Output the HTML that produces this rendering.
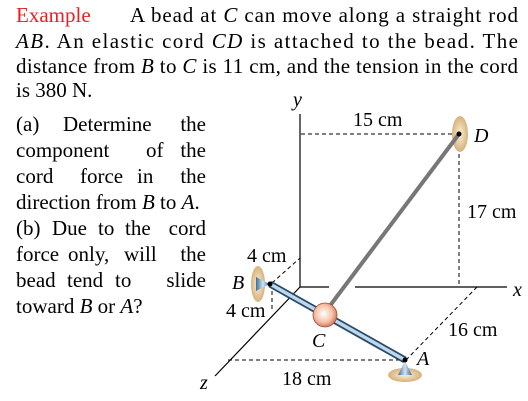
<!DOCTYPE html>
<html><head><meta charset="utf-8"><style>
body{margin:0;background:#fff}
svg{display:block;font-family:"Liberation Serif",serif}
</style></head><body>
<svg width="528" height="401" viewBox="0 0 528 401">
<defs>
<radialGradient id="bead" cx="0.45" cy="0.45" r="0.6"><stop offset="0" stop-color="#fff"/><stop offset="0.6" stop-color="#f6c0a6"/><stop offset="1" stop-color="#c86a4e"/></radialGradient>
<radialGradient id="disk"><stop offset="0" stop-color="#fbeed6"/><stop offset="1" stop-color="#d6b27c"/></radialGradient>
<linearGradient id="cone" x1="0" y1="0" x2="1" y2="0"><stop offset="0" stop-color="#3a6d9c"/><stop offset="0.5" stop-color="#cfe3f4"/><stop offset="1" stop-color="#3a6d9c"/></linearGradient>
</defs>
<g font-size="21" fill="#000">
<text x="16" y="22" fill="#e8201e">Example</text>
<text x="130" y="22" textLength="388" lengthAdjust="spacing">A bead at <tspan font-style="italic">C</tspan> can move along a straight rod</text>
<text x="16" y="48" textLength="502" lengthAdjust="spacing"><tspan font-style="italic">AB</tspan>. An elastic cord <tspan font-style="italic">CD</tspan> is attached to the bead. The</text>
<text x="16" y="73" textLength="502" lengthAdjust="spacing">distance from <tspan font-style="italic">B</tspan> to <tspan font-style="italic">C</tspan> is 11 cm, and the tension in the cord</text>
<text x="16" y="97">is 380 N.</text>
<text x="16" y="131">(a)</text><text x="63" y="131">Determine</text><text x="206" y="131" text-anchor="end">the</text>
<text x="16" y="157">component</text><text x="146" y="157">of</text><text x="206" y="157" text-anchor="end">the</text>
<text x="16" y="183">cord</text><text x="80" y="183">force</text><text x="137" y="183">in</text><text x="206" y="183" text-anchor="end">the</text>
<text x="16" y="209">direction from <tspan font-style="italic">B</tspan> to <tspan font-style="italic">A</tspan>.</text>
<text x="16" y="235">(b)</text><text x="52" y="235">Due</text><text x="98" y="235">to</text><text x="125" y="235">the</text><text x="206" y="235" text-anchor="end">cord</text>
<text x="16" y="261">force</text><text x="68" y="261">only,</text><text x="124" y="261">will</text><text x="206" y="261" text-anchor="end">the</text>
<text x="16" y="287">bead</text><text x="67" y="287">tend</text><text x="115" y="287">to</text><text x="206" y="287" text-anchor="end">slide</text>
<text x="16" y="313">toward <tspan font-style="italic">B</tspan> or <tspan font-style="italic">A</tspan>?</text>
</g>
<g stroke="#000" stroke-width="1.2" fill="none">
<line x1="300" y1="114" x2="300" y2="287"/>
<line x1="300" y1="287" x2="329" y2="287"/>
<line x1="355" y1="287" x2="507" y2="287"/>
<line x1="300" y1="287" x2="215" y2="376"/>
</g>
<g stroke="#000" stroke-width="1" stroke-dasharray="4,3" fill="none">
<line x1="301" y1="134" x2="453" y2="134"/>
<line x1="459" y1="140" x2="459" y2="287"/>
<line x1="477" y1="287" x2="406" y2="360"/>
<line x1="228" y1="360" x2="400" y2="360"/>
<line x1="272" y1="283" x2="300" y2="258"/>
<line x1="272" y1="284" x2="272" y2="310"/>
</g>
<ellipse cx="460" cy="134" rx="8" ry="18" fill="url(#disk)"/>
<ellipse cx="258" cy="284" rx="7" ry="18" fill="url(#disk)"/>
<ellipse cx="405" cy="375" rx="17" ry="7" fill="url(#disk)"/>
<polygon points="256,277 256,291 270,284" fill="url(#cone)"/>
<polygon points="398,375 412,375 405,361" fill="url(#cone)"/>
<line x1="270" y1="284" x2="405" y2="360" stroke="#2b4a66" stroke-width="7"/>
<line x1="270" y1="284" x2="405" y2="360" stroke="#bcd8ee" stroke-width="3.5"/>
<line x1="329" y1="307" x2="459" y2="134" stroke="#777" stroke-width="4"/>
<circle cx="325" cy="315" r="12" fill="url(#bead)" stroke="#a0503a" stroke-width="0.8"/>
<circle cx="270" cy="284" r="2.5" fill="#000"/><circle cx="405" cy="360" r="2.5" fill="#000"/><circle cx="459" cy="134" r="2.5" fill="#000"/>
<g font-size="20" fill="#000">
<text x="293" y="106" font-style="italic">y</text>
<text x="353" y="126">15 cm</text>
<text x="474" y="142" font-style="italic">D</text>
<text x="467" y="218">17 cm</text>
<text x="513" y="296" font-style="italic">x</text>
<text x="448" y="336">16 cm</text>
<text x="417" y="365" font-style="italic">A</text>
<text x="282" y="385">18 cm</text>
<text x="312" y="347" font-style="italic">C</text>
<text x="247" y="262">4 cm</text>
<text x="232" y="289" font-style="italic">B</text>
<text x="226" y="317">4 cm</text>
<text x="200" y="389" font-style="italic">z</text>
</g>
</svg>
</body></html>
